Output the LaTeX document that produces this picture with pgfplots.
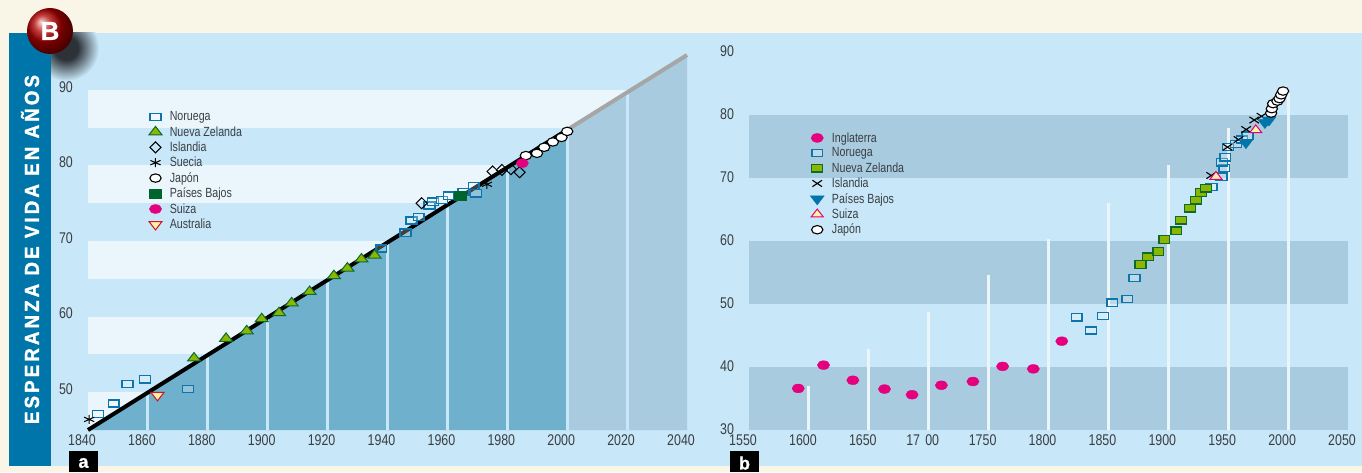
\documentclass[border=0pt]{standalone}
\usepackage{pgfplots}
\usepackage{graphicx}
\usepackage{fontspec}
\pgfplotsset{compat=1.18}
\setmainfont{Liberation Sans}[FakeStretch=0.8]
\newfontfamily\capfont{Liberation Sans Bold}[LetterSpace=14,FakeStretch=0.85,FakeBold=1.5]
\newfontfamily\tagfont{Liberation Sans Bold}[FakeBold=1]

\definecolor{cream}{HTML}{F9F6E8}
\definecolor{panel}{HTML}{C8E7F8}
\definecolor{strip}{HTML}{0075A9}
\definecolor{bandl}{HTML}{EAF6FC}
\definecolor{bandd}{HTML}{A8CBDF}
\definecolor{area}{HTML}{6FB0CD}
\definecolor{norw}{HTML}{0E75AB}
\definecolor{nzgreen}{HTML}{8DB600}
\definecolor{nzline}{HTML}{0A6B2D}
\definecolor{dutch}{HTML}{00642D}
\definecolor{mag}{HTML}{E5007E}
\definecolor{yell}{HTML}{FFF3A0}
\definecolor{ausred}{HTML}{D0102C}
\definecolor{txt}{HTML}{3A3F42}
\definecolor{shadowc}{HTML}{2C3238}
\pgfdeclareradialshading{dropshadow}{\pgfpoint{0bp}{0bp}}{
  color(0bp)=(shadowc); color(9bp)=(shadowc); color(25bp)=(panel); color(50bp)=(panel)}

\pgfplotsset{
  panelaxis/.style={
    at={(#1pt,42pt)}, anchor=south west,
    scale only axis, width=599pt, height=378pt,
    clip=false,
    axis line style={draw=none}, tick style={draw=none},
    /pgf/number format/assume math mode=true,
    /pgf/number format/1000 sep={},
    tick label style={font=\fontsize{15.5}{15.5}\selectfont, text=txt},
    legend cell align=left,
  },
  panellegend/.style 2 args={
    legend style={at={(#1)}, anchor=north west, draw=none, fill=none,
      font=\fontsize{13.3}{13.3}\selectfont, text=txt, row sep=#2,
      inner sep=0pt, nodes={inner sep=0.8pt},
      /tikz/every odd column/.append style={column sep=7pt}}},
  mnorw/.style={only marks, mark=square*, mark size=3.6pt, draw=norw,
    mark options={xscale=1.5, line width=1.4pt, draw=norw, fill=white, fill opacity=.25}},
  mnz/.style={only marks, mark=triangle*, mark size=7.5pt,
    mark options={yscale=.75, line width=1pt, draw=nzline, fill=nzgreen}},
  mnzb/.style={only marks, mark=square*, mark size=3.9pt,
    mark options={xscale=1.4, line width=1.3pt, draw=nzline, fill=nzgreen}},
  mice/.style={only marks, mark=diamond, mark size=5.5pt,
    mark options={xscale=1.35, line width=1pt, draw=black}},
  msue/.style={only marks, mark=asterisk, mark size=4.5pt,
    mark options={xscale=1.3, line width=1pt, draw=black}},
  mcross/.style={only marks, mark=x, mark size=4.5pt,
    mark options={xscale=1.5, line width=1.1pt, draw=black}},
  mjap/.style={only marks, mark=*, mark size=4.2pt,
    mark options={xscale=1.35, line width=1.1pt, draw=black, fill=white}},
  mdutch/.style={only marks, mark=square*, mark size=4.2pt,
    mark options={xscale=1.4, draw=dutch, fill=dutch}},
  mmag/.style={only marks, mark=*, mark size=4.4pt,
    mark options={xscale=1.4, draw=mag, fill=mag}},
  maus/.style={only marks, mark=triangle*, mark size=7.5pt,
    mark options={rotate=180, yscale=.75, line width=1pt, draw=ausred, fill=yell}},
  mdown/.style={only marks, mark=triangle*, mark size=8pt,
    mark options={rotate=180, yscale=.75, draw=strip, fill=strip}},
  mswiss/.style={only marks, mark=triangle*, mark size=7pt,
    mark options={yscale=.75, line width=1pt, draw=mag, fill=yell}},
}

\begin{document}
\begin{tikzpicture}[x=1pt,y=1pt]
\useasboundingbox (0,0) rectangle (1362,472);
\fill[cream] (0,0) rectangle (1362,472);
\fill[panel] (9,6) rectangle (1362,439);
\begin{scope}
  \clip (51,6) rectangle (1362,439);
  \shade[shading=dropshadow] (66,424) circle (33);
\end{scope}
\fill[strip] (9,6) rectangle (51,439);

\begin{axis}[panelaxis=88,
    xmin=1840, xmax=2040, ymin=45, ymax=95,
    xtick={1840,1860,...,2040}, ytick={50,60,...,90},
    xticklabel style={anchor=center, xshift=-6pt, yshift=-10pt},
    yticklabel style={anchor=center, xshift=-22pt, yshift=3pt},
    panellegend={0.1015,0.845}{2.6pt},
  ]
  % bands
  \addplot[forget plot, fill=bandl, draw=none] coordinates {(1840,85)(2040,85)(2040,90)(1840,90)} --cycle;
  \addplot[forget plot, fill=bandl, draw=none] coordinates {(1840,75)(2040,75)(2040,80)(1840,80)} --cycle;
  \addplot[forget plot, fill=bandl, draw=none] coordinates {(1840,65)(2040,65)(2040,70)(1840,70)} --cycle;
  \addplot[forget plot, fill=bandl, draw=none] coordinates {(1840,55)(2040,55)(2040,60)(1840,60)} --cycle;
  \addplot[forget plot, fill=bandl, draw=none] coordinates {(1840,45)(2040,45)(2040,50)(1840,50)} --cycle;
  % area under the trend
  \addplot[forget plot, fill=area, draw=none] coordinates {(1840,45)(2000,84.7)(2000,45)} --cycle;
  \addplot[forget plot, fill=bandd, draw=none] coordinates {(2000,84.7)(2040,94.6)(2040,45)(2000,45)} --cycle;
  \addplot[forget plot, ycomb, color=panel, line width=3pt] coordinates {
    (1860,49.9)(1880,54.9)(1900,59.8)(1920,64.8)(1940,69.8)(1960,74.8)(1980,79.7)(2000,84.7)(2020,89.6)};
  % trend
  \addplot[forget plot, color=black!35, line width=4pt] coordinates {(2000,84.7)(2040,94.6)};
  \addplot[forget plot, color=black, line width=4pt] coordinates {(1840,45)(2000,84.7)};

  \addplot[mnorw] coordinates {(1843.3,47.1)(1848.6,48.5)(1853.2,51.1)(1859,51.7)(1873.4,50.4)
    (1937.9,69.0)(1946,71.1)(1948,72.7)(1950.4,73.2)(1954,74.7)(1955.2,75.2)(1958.2,75.4)
    (1960.4,76)(1965.4,76.5)(1968.8,77.3)(1969.6,76.3)};
  \addplot[mnz] coordinates {(1875.4,54.5)(1886.1,57.1)(1893,58.1)(1898,59.7)(1903.8,60.5)
    (1908,61.8)(1914,63.3)(1922.1,65.4)(1926.6,66.4)(1931.3,67.6)(1935.7,68.1)};
  \addplot[mice] coordinates {(1951.4,75)(1975.1,79.2)(1978.2,79.4)(1981.2,79.5)(1984.1,79.1)};
  \addplot[msue] coordinates {(1840.4,46.4)(1973.2,77.5)};
  \addplot[mjap] coordinates {(1986.2,81.3)(1989.9,81.6)(1992.3,82.4)(1995.2,83.1)(1998.1,83.7)(2000,84.5)};
  \addplot[mdutch] coordinates {(1964.3,76)};
  \addplot[mmag] coordinates {(1985,80.3)};
  \addplot[maus] coordinates {(1863.2,49.6)};
  \legend{Noruega,Nueva Zelanda,Islandia,Suecia,Japón,Países Bajos,Suiza,Australia}
\end{axis}

\begin{axis}[panelaxis=749,
    xmin=1550, xmax=2050, ymin=30, ymax=90,
    xtick={1550,1600,...,2050},
    xticklabels={1550,1600,1650,17\,\,00,1750,1800,1850,1900,1950,2000,2050},
    ytick={30,40,...,90},
    xticklabel style={anchor=center, xshift=-6pt, yshift=-10pt},
    yticklabel style={anchor=center, xshift=-22pt, yshift=1pt},
    panellegend={0.102,0.79}{2.6pt},
  ]
  \addplot[forget plot, fill=bandd, draw=none] coordinates {(1550,70)(2050,70)(2050,80)(1550,80)} --cycle;
  \addplot[forget plot, fill=bandd, draw=none] coordinates {(1550,50)(2050,50)(2050,60)(1550,60)} --cycle;
  \addplot[forget plot, fill=bandd, draw=none] coordinates {(1550,30)(2050,30)(2050,40)(1550,40)} --cycle;
  \addplot[forget plot, ycomb, color=bandl, line width=3pt] coordinates {
    (1600,37)(1650,42.9)(1700,48.7)(1750,54.6)(1800,60.3)(1850,66)(1900,72)(1950,78)(2000,83.5)};

  \addplot[mmag] coordinates {(1591.1,36.6)(1612.2,40.3)(1636.7,37.9)(1663.1,36.5)(1686.1,35.6)
    (1710.6,37.1)(1736.9,37.7)(1761.7,40.1)(1787.3,39.7)(1811.1,44.1)};
  \addplot[mnorw] coordinates {(1823.6,47.9)(1835.6,45.8)(1845.6,48.1)(1853.3,50.2)(1865.8,50.8)(1871.7,54.1)
    (1936.1,68.6)(1944.4,70.2)(1946.7,71.6)(1944.8,72.5)(1947.5,73.3)(1949.8,74.9)(1956.4,75.4)
    (1961.4,76.1)(1966.1,76.7)};
  \addplot[mnzb] coordinates {(1876.7,56.3)(1883.3,57.5)(1891.7,58.3)(1896.7,60.2)(1906.7,61.6)(1910.8,63.3)
    (1918.3,65.2)(1923.3,66.5)(1927.3,67.7)(1931.7,68.4)};
  \addplot[mcross] coordinates {(1935.8,70.4)(1949.4,74.9)(1958.6,76.1)(1965,77.7)(1971.7,79.2)(1977.8,79.8)};
  \addplot[mdown] coordinates {(1964.8,75.6)(1980.6,78.8)(1984,79.2)};
  \addplot[mswiss] coordinates {(1939.8,70.2)(1973,77.6)};
  \addplot[mjap] coordinates {(1985.8,80.3)(1986.4,81)(1987.5,81.8)(1991.1,82.2)(1992.8,82.6)(1994.2,83.2)(1995.8,83.8)};
  \legend{Inglaterra,Noruega,Nueva Zelanda,Islandia,Países Bajos,Suiza,Japón}
\end{axis}

% title strip, badge, panel letters
\node[rotate=90, text=white, inner sep=0] at (30,222.5)
  {\resizebox{349pt}{18pt}{\capfont ESPERANZA DE VIDA EN AÑOS}};
\shade[ball color=red!70!black] (50,441) circle (23);
\node[text=white, inner sep=0] at (50,441) {\tagfont\fontsize{26}{26}\selectfont B};
\fill[black] (69,0) rectangle (98,21);
\fill[black] (730,0) rectangle (759,21);
\node[text=white, inner sep=0] at (83.5,9) {\tagfont\fontsize{18}{18}\selectfont a};
\node[text=white, inner sep=0] at (744.5,9) {\tagfont\fontsize{18}{18}\selectfont b};
\end{tikzpicture}
\end{document}
